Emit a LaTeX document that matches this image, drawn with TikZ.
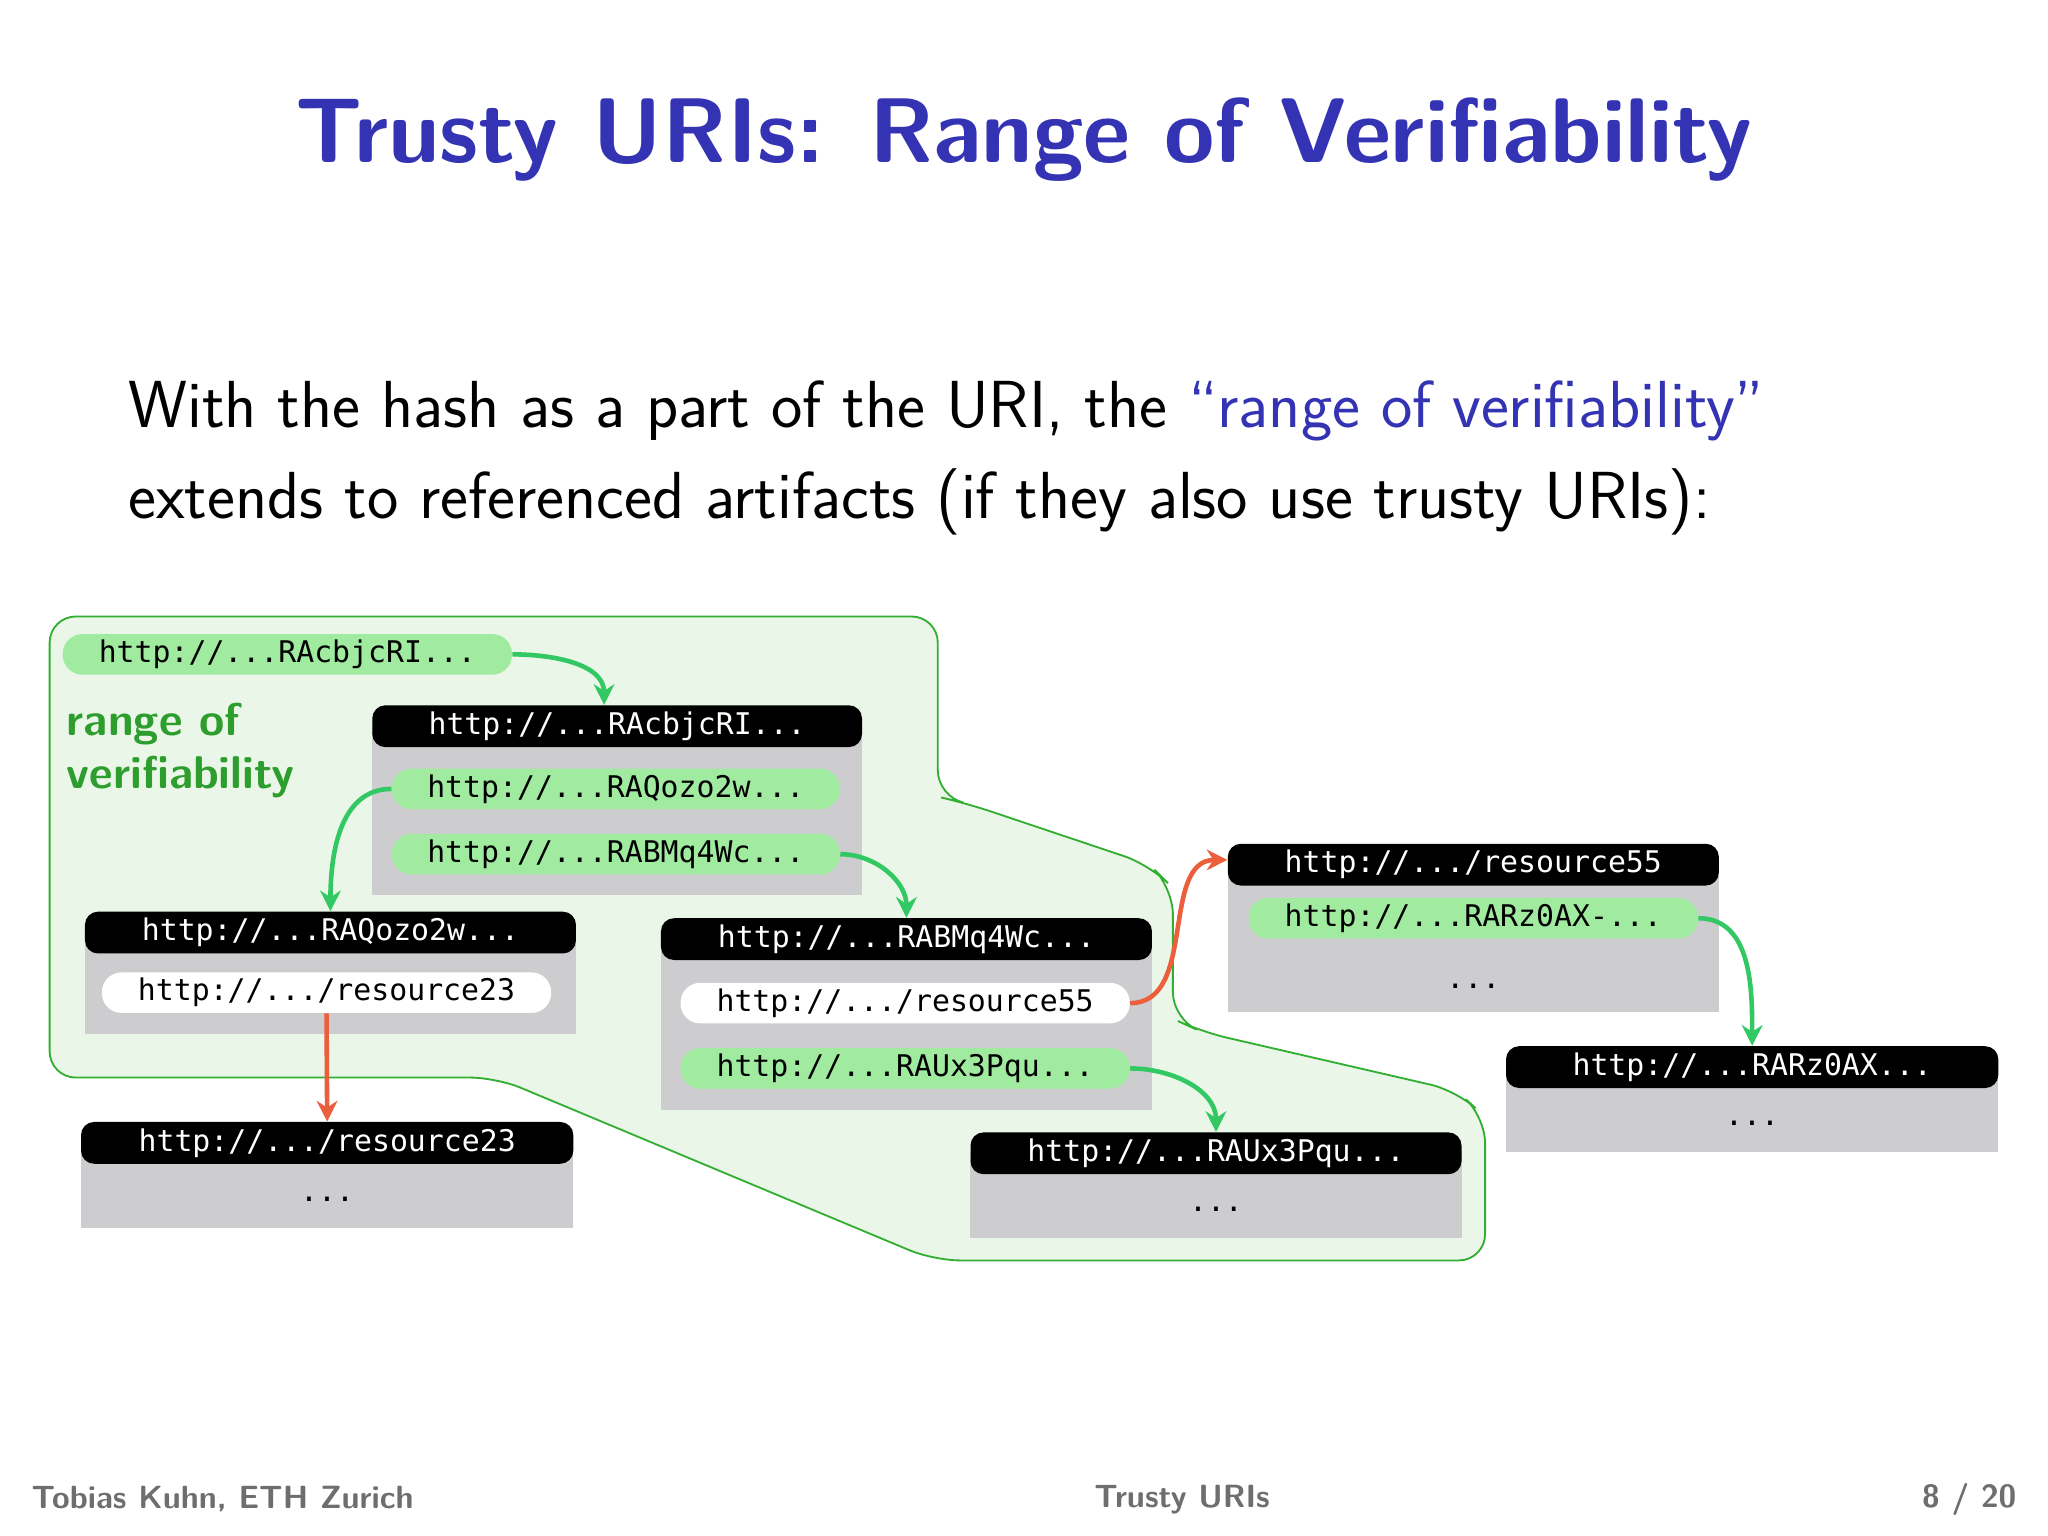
\documentclass[tikz,border=0pt]{standalone}
\usepackage{fontspec}
\setmonofont{DejaVu Sans Mono}
\usetikzlibrary{arrows.meta}
\definecolor{ttl}{RGB}{51,51,179}
\definecolor{reg}{RGB}{234,246,231}
\definecolor{regl}{RGB}{50,175,50}
\definecolor{pg}{RGB}{160,235,160}
\definecolor{gb}{RGB}{205,205,207}
\definecolor{ag}{RGB}{50,200,100}
\definecolor{ar}{RGB}{235,95,60}
\definecolor{ft}{RGB}{110,110,110}
\begin{document}
\begin{tikzpicture}[x=0.02cm,y=-0.02cm,
 hdr/.style={fill=black,text=white,rounded corners=0.2cm,inner sep=0pt,minimum height=0.64cm,font=\ttfamily\fontsize{13}{15}\selectfont},
 pill/.style={rounded corners=0.3cm,inner sep=0pt,minimum height=0.62cm,font=\ttfamily\fontsize{13}{15}\selectfont},
 gbox/.style={fill=gb,draw=none},
 dots/.style={font=\ttfamily\fontsize{13}{15}\selectfont},
 ga/.style={draw=ag,line width=2pt,-{Stealth[length=9pt,width=9pt]}},
 ra/.style={draw=ar,line width=2pt,-{Stealth[length=9pt,width=9pt]}}]
\fill[white] (0,0) rectangle (1568,1176);
% region
\draw[regl,fill=reg,line width=0.8pt,rounded corners=0.4cm] (38,825) -- (38,472) -- (718,472) -- (718,610) -- (740,615) -- (880,662) -- (898,680) -- (898,780) -- (920,790) -- (1115,835) -- (1137,855) -- (1137,965) -- (715,965) -- (380,825) -- cycle;
\node[font=\sffamily\bfseries\fontsize{20}{23}\selectfont,text=regl!90!black,align=left,anchor=north west] (lab) at (45,532) {range of\\verifiability};
% title and text
\node[font=\sffamily\bfseries\fontsize{40}{46}\selectfont,text=ttl] (title) at (784,107) {Trusty URIs: Range of Verifiability};
\node[font=\sffamily\fontsize{29}{40}\selectfont,align=left,anchor=north west] (body) at (92,285) {With the hash as a part of the URI, the \textcolor{ttl}{``range of verifiability''}\\extends to referenced artifacts (if they also use trusty URIs):};
% top pill
\node[pill,fill=pg,minimum width=6.88cm] (p0) at (220,501) {http://...RAcbjcRI...};
% box A
\fill[gb] (285,556) rectangle (660,685);
\node[hdr,minimum width=7.5cm] (hA) at (472.5,556) {http://...RAcbjcRI...};
\node[pill,fill=pg,minimum width=6.86cm] (pA1) at (471.5,604) {http://...RAQozo2w...};
\node[pill,fill=pg,minimum width=6.86cm] (pA2) at (471.5,654) {http://...RABMq4Wc...};
% box B
\fill[gb] (65,714) rectangle (441,792);
\node[hdr,minimum width=7.52cm] (hB) at (253,714) {http://...RAQozo2w...};
\node[pill,fill=white,minimum width=6.88cm] (pB1) at (250,760) {http://.../resource23};
% box C
\fill[gb] (62,875) rectangle (439,940);
\node[hdr,minimum width=7.54cm] (hC) at (250.5,875) {http://.../resource23};
\node[dots] (dC) at (250.5,918) {...};
% box D
\fill[gb] (506,719) rectangle (882,850);
\node[hdr,minimum width=7.52cm] (hD) at (694,719) {http://...RABMq4Wc...};
\node[pill,fill=white,minimum width=6.88cm] (pD1) at (693,768) {http://.../resource55};
\node[pill,fill=pg,minimum width=6.88cm] (pD2) at (693,818) {http://...RAUx3Pqu...};
% box E
\fill[gb] (743,883) rectangle (1119,948);
\node[hdr,minimum width=7.52cm] (hE) at (931,883) {http://...RAUx3Pqu...};
\node[dots] (dE) at (931,926) {...};
% box F
\fill[gb] (940,662) rectangle (1316,775);
\node[hdr,minimum width=7.52cm] (hF) at (1128,662) {http://.../resource55};
\node[pill,fill=pg,minimum width=6.88cm] (pF1) at (1128,703) {http://...RARz0AX-...};
\node[dots] (dF) at (1128,755) {...};
% box G
\fill[gb] (1153,817) rectangle (1530,882);
\node[hdr,minimum width=7.54cm] (hG) at (1341.5,817) {http://...RARz0AX...};
\node[dots] (dG) at (1341.5,860) {...};
% arrows
\draw[ga] (p0.east) to[out=0,in=90] ([xshift=-0.2cm]hA.north);
\draw[ga] (pA1.west) to[out=180,in=90] (hB.north);
\draw[ga] (pA2.east) to[out=0,in=90] (hD.north);
\draw[ra] (pB1.south) -- (hC.north);
\draw[ra] (pD1.east) to[out=0,in=180] ([yshift=0.4cm]hF.south west);
\draw[ga] (pD2.east) to[out=0,in=90] (hE.north);
\draw[ga] (pF1.east) to[out=0,in=90] (hG.north);
% footer
\node[font=\sffamily\bfseries\fontsize{14}{16}\selectfont,text=ft,anchor=west] (f1) at (18,1148) {Tobias Kuhn, ETH Zurich};
\node[font=\sffamily\bfseries\fontsize{14}{16}\selectfont,text=ft] (f2) at (905,1148) {Trusty URIs};
\node[font=\sffamily\bfseries\fontsize{14}{16}\selectfont,text=ft,anchor=east] (f3) at (1550,1148) {8 / 20};
\end{tikzpicture}
\end{document}
